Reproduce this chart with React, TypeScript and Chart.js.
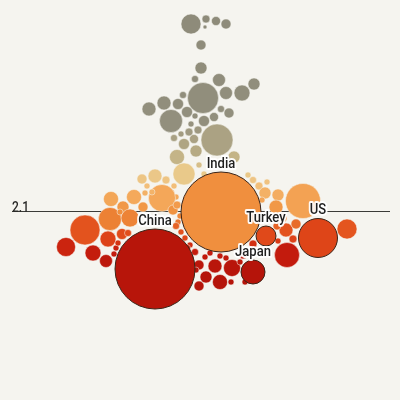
import React, { useEffect, useRef } from "react";
import { Chart, registerables } from "chart.js";

Chart.register(...registerables);

// Beeswarm of total fertility rate by country, bubble area ~ population (millions)
const swarmOffset = [
  -9, 6, 5, 16, 26, 1, 1, -5, 19, 54,
  3, -17, 26, 42, -51, -36, -22, -29, -13, -5,
  4, 14, 21, 29, -9, -2, -11, -19, -26, -6,
  17, -16, -4, -23, 34, -1, -16, 4, -45, -58,
  -34, -53, -26, -28, -24, -38, -66, -89, -55, -77,
  -57, -27, -90, -70, -115, -92, -78, -134, -107, -94,
  -84, -82, -86, -80, 48, 53, 59, 67, 65, 78,
  76, 103, 57, 82, 86, 96, 93, 78, 147, 87,
  53, 43, -1, 6, 15, 20, 32, 31, -1, 5,
  -5, 10, 20, 26, -19, -15, -22, -10,
  -23, -20, -24, -13, -9, -4, 47, 77, -72, 45,
  40, -48, 62,
];
const fertilityRate = [
  5.84, 5.94, 5.78, 5.9, 5.84, 5.42, 4.96, 4.74, 4.72, 4.64,
  4.36, 4.42, 4.46, 4.46, 4.14, 4.26, 4.24, 3.9, 4.08, 4.0,
  3.9, 3.98, 4.14, 4.06, 3.84, 3.72, 3.68, 3.64, 3.56, 3.54,
  3.52, 3.44, 3.3, 3.18, 3.18, 3.02, 2.84, 2.84, 2.8, 2.74,
  2.72, 2.6, 2.6, 2.48, 2.38, 2.36, 2.38, 2.34, 2.46, 2.18,
  2.18, 2.12, 1.94, 1.96, 1.72, 1.54, 1.64, 1.38, 1.26, 1.1,
  1.36, 1.46, 1.24, 2.08, 2.82, 2.72, 2.6, 2.68, 2.46, 2.42,
  2.18, 2.3, 2.26, 1.96, 1.72, 1.84, 1.54, 1.5, 1.74, 1.22,
  1.44, 1.22, 1.02, 0.78, 1.0, 0.68, 0.96, 0.68, 0.6, 1.18,
  1.28, 1.26, 1.2, 1.16, 1.68, 1.56, 1.88, 1.42,
  2.22, 2.0, 1.8, 1.36, 1.16, 0.92, 1.56, 1.8, 1.66, 0.68,
  1.08, 2.48, 2.32,
];
const populationM = [
  88, 14, 3.5, 18, 22, 22, 32, 11, 37, 32,
  212, 11, 37, 56, 43, 43, 27, 117, 27, 8,
  27, 18, 11, 22, 8, 14, 14, 8, 11, 18,
  226, 27, 32, 50, 32, 8, 107, 8, 43, 22,
  14, 8, 8, 5.5, 8, 161, 50, 50, 8, 32,
  22, 22, 117, 71, 198, 56, 27, 80, 56, 37,
  8, 8, 8, 8, 8, 11, 14, 8, 32, 32,
  43, 270, 8, 22, 43, 22, 14, 8, 88, 138,
  14, 14, 22, 32, 43, 50, 64, 8, 22, 8,
  11, 8, 8, 8, 8, 8, 8, 8,
  14, 8, 11, 11, 8, 8, 11, 14, 11, 8,
  8, 8, 8,
];

const countryNames = ["China", "India", "Turkey", "US", "Japan"];
const countryOffset = [-45, 21, 66, 118, 53];
const countryRate = [0.94, 2.08, 1.6, 1.56, 0.88];
const countryPopM = [1410, 1410, 88, 335, 127];

const replacementRate = 2.1;
const replacementLabel = "2.1";

const BG = "#f5f4ef";
const colorStops: [number, string][] = [
  [5.9, "#8e8b7a"],
  [3.9, "#928f7d"],
  [3.55, "#a9a183"],
  [3.3, "#b6aa84"],
  [3.18, "#c4b487"],
  [2.85, "#e9c98b"],
  [2.62, "#f2c07c"],
  [2.38, "#f4a95b"],
  [2.1, "#f0913f"],
  [1.92, "#ec7f33"],
  [1.75, "#e4561f"],
  [1.55, "#de4418"],
  [1.35, "#c81e0e"],
  [0.9, "#b5140a"],
];

function hexToRgb(h: string) {
  const n = parseInt(h.slice(1), 16);
  return [(n >> 16) & 255, (n >> 8) & 255, n & 255];
}
function colorFor(rate: number): string {
  if (rate >= colorStops[0][0]) return colorStops[0][1];
  for (let i = 0; i < colorStops.length - 1; i++) {
    const [a, ca] = colorStops[i];
    const [b, cb] = colorStops[i + 1];
    if (rate <= a && rate >= b) {
      const t = (a - rate) / (a - b);
      const x = hexToRgb(ca), y = hexToRgb(cb);
      const c = x.map((v, k) => Math.round(v + (y[k] - v) * t));
      return `rgb(${c[0]},${c[1]},${c[2]})`;
    }
  }
  return colorStops[colorStops.length - 1][1];
}
const radiusFor = (pop: number) => 40 * Math.sqrt(pop / 1410);

const LABEL_FONT = "500 15px Roboto, 'Noto Sans', sans-serif";

const overlayPlugin = {
  id: "overlay",
  beforeDatasetsDraw(chart: any) {
    const { ctx, scales } = chart;
    const y = Math.round(scales.y.getPixelForValue(replacementRate)) + 0.5;
    const x0 = scales.x.getPixelForValue(-188);
    const x1 = scales.x.getPixelForValue(190);
    ctx.save();
    ctx.strokeStyle = "#3b3b38";
    ctx.lineWidth = 1;
    ctx.beginPath();
    ctx.moveTo(x0, y);
    ctx.lineTo(x1, y);
    ctx.stroke();
    ctx.font = "500 14px Roboto, 'Noto Sans', sans-serif";
    ctx.fillStyle = "#2a2a28";
    ctx.textBaseline = "alphabetic";
    ctx.translate(x0, y + 0.5);
    ctx.scale(0.86, 1);
    ctx.fillText(replacementLabel, 0, 0);
    ctx.restore();
  },
  afterDatasetsDraw(chart: any) {
    const { ctx } = chart;
    const meta = chart.getDatasetMeta(0);
    ctx.save();
    ctx.font = LABEL_FONT;
    ctx.textAlign = "center";
    ctx.textBaseline = "middle";
    meta.data.forEach((el: any, i: number) => {
      const r = el.options.radius;
      const lx = el.x;
      const ly = el.y - r - 8;
      ctx.save();
      ctx.translate(lx, ly);
      ctx.scale(0.87, 1);
      ctx.lineJoin = "round";
      ctx.strokeStyle = "rgba(255,255,255,0.95)";
      ctx.lineWidth = 4;
      ctx.strokeText(countryNames[i], 0, 0);
      ctx.fillStyle = "#1f1f1f";
      ctx.fillText(countryNames[i], 0, 0);
      ctx.restore();
    });
    ctx.restore();
  },
};

export default function App() {
  const ref = useRef<HTMLCanvasElement | null>(null);
  useEffect(() => {
    document.body.style.margin = "0";
    document.body.style.background = BG;
    const others = swarmOffset.map((x, i) => ({
      x,
      y: fertilityRate[i],
      r: radiusFor(populationM[i]),
    }));
    const highlighted = countryOffset.map((x, i) => ({
      x,
      y: countryRate[i],
      r: radiusFor(countryPopM[i]),
    }));
    const chart = new Chart(ref.current as HTMLCanvasElement, {
      type: "bubble",
      data: {
        datasets: [
          {
            data: highlighted,
            backgroundColor: countryRate.map(colorFor),
            borderColor: "#3a2418",
            borderWidth: 1,
            order: 0,
          },
          {
            data: others,
            backgroundColor: fertilityRate.map(colorFor),
            borderColor: BG,
            borderWidth: 0.5,
            order: 1,
          },
        ],
      },
      options: {
        responsive: false,
        animation: false,
        events: [],
        clip: false as any,
        layout: { padding: 0, autoPadding: false },
        plugins: {
          legend: { display: false },
          tooltip: { enabled: false },
          title: { display: false },
        },
        scales: {
          x: { type: "linear", min: -200, max: 200, display: false },
          y: { type: "linear", min: -1.68, max: 6.32, display: false },
        },
      },
      plugins: [overlayPlugin],
    });
    return () => chart.destroy();
  }, []);
  return (
    <div style={{ position: "fixed", left: 0, top: 0, width: 400, height: 400, background: BG }}>
      <canvas ref={ref} width={400} height={400} style={{ display: "block" }} />
    </div>
  );
}
